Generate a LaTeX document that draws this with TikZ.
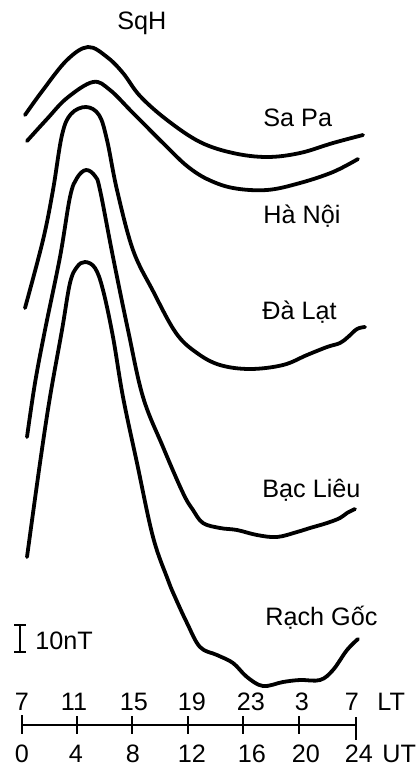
\documentclass[tikz,border=0pt]{standalone}
\usepackage{fontspec}
\setmainfont{Liberation Sans}
\usetikzlibrary{positioning}
\tikzstyle{trace} = [line width=1.9pt, line cap=round, line join=round]
\tikzstyle{timeline} = [line width=1.1pt]
\tikzstyle{tickmark} = [line width=0.9pt]
\tikzstyle{site} = [inner sep=0pt, anchor=base west, font=\fontsize{12.6}{15}\selectfont]
\tikzstyle{hour} = [inner sep=0pt, anchor=base, font=\fontsize{12.6}{15}\selectfont]

\begin{document}
\begin{tikzpicture}[x=0.5pt, y=-0.5pt]
                \useasboundingbox (0,0) rectangle (419,767);

                \node (sqh) [site] at (117,29) {SqH};
                \node (sapa) [site] at (263,126) {Sa Pa};
                \node (hanoi) [site] at (263,223) {Hà Nội};
                \node (dalat) [site] at (262,319) {Đà Lạt};
                \node (baclieu) [site] at (262,497) {Bạc Liêu};
                \node (rachgoc) [site] at (265,625) {Rạch Gốc};

                % SqH curves
                \draw [trace] plot [smooth, tension=0.6] coordinates {(25,115) (43,90) (67,60) (88,47) (107,57) (123,73) (140,96) (167,120) (200,142) (233,153) (267,157) (300,153) (333,143) (363,135)};
                \draw [trace] plot [smooth, tension=0.6] coordinates {(27,141) (47,119) (67,98) (93,82) (110,90) (133,113) (167,147) (187,166) (207,179) (233,188) (267,190) (300,183) (333,172) (358,159)};
                \draw [trace] plot [smooth, tension=0.6] coordinates {(25,308) (43,240) (53,190) (62,135) (71,114) (86,107) (99,115) (107,140) (117,190) (133,250) (153,291) (176,333) (197,353) (220,365) (250,369) (283,365) (307,355) (327,347) (340,343) (348,337) (357,329) (365,327)};
                \draw [trace] plot [smooth, tension=0.6] coordinates {(27,437) (35,383) (45,330) (60,257) (70,197) (77,178) (86,170) (95,176) (100,190) (113,257) (128,330) (143,397) (163,447) (183,493) (193,510) (203,523) (220,528) (237,530) (257,535) (277,537) (297,532) (310,528) (327,523) (340,518) (347,513) (355,509)};
                \draw [trace] plot [smooth, tension=0.6] coordinates {(27,557) (40,463) (50,397) (62,330) (70,283) (77,267) (85,262) (95,268) (103,290) (113,337) (123,397) (137,463) (153,537) (168,580) (175,597) (187,623) (200,647) (217,655) (233,663) (247,677) (263,686) (283,682) (300,680) (320,680) (333,670) (347,650) (358,639)};

                % 10 nT scale
                \coordinate (bartop) at (20,625);
                \coordinate (barbot) at (20,652);
                \draw [tickmark] (bartop) -- (barbot);
                \draw [tickmark] ([xshift=-3pt]bartop) -- ([xshift=3pt]bartop);
                \draw [tickmark] ([xshift=-3pt]barbot) -- ([xshift=3pt]barbot);
                \node (unit) [site] at (35,649) {10nT};

                % time axis
                \coordinate (u0) at (22,725);
                \coordinate (u4) at (77,725);
                \coordinate (u8) at (132,725);
                \coordinate (u12) at (188,725);
                \coordinate (u16) at (243,725);
                \coordinate (u20) at (299,725);
                \coordinate (u24) at (356,725);
                \draw [timeline] (u0) -- (u24);
                \draw [tickmark] (u0) ++(0,-10) -- ++(0,19);
                \draw [tickmark] (u4) ++(0,-9) -- ++(0,18);
                \draw [tickmark] (u8) ++(0,-9) -- ++(0,18);
                \draw [tickmark] (u12) ++(0,-9) -- ++(0,18);
                \draw [tickmark] (u16) ++(0,-9) -- ++(0,18);
                \draw [tickmark] (u20) ++(0,-9) -- ++(0,18);
                \draw [tickmark] (u24) ++(0,-8) -- ++(0,23);

                \node (lt7a) [hour] at (22,710) {7};
                \node (lt11) [hour] at (74,710) {11};
                \node (lt15) [hour] at (134,710) {15};
                \node (lt19) [hour] at (192,710) {19};
                \node (lt23) [hour] at (251,710) {23};
                \node (lt3) [hour] at (302,710) {3};
                \node (lt7b) [hour] at (352,710) {7};
                \node (lt) [site] at (377,710) {LT};

                \node (ut0) [hour] at (22,762) {0};
                \node (ut4) [hour] at (76,762) {4};
                \node (ut8) [hour] at (133,762) {8};
                \node (ut12) [hour] at (192,762) {12};
                \node (ut16) [hour] at (252,762) {16};
                \node (ut20) [hour] at (306,762) {20};
                \node (ut24) [hour] at (359,762) {24};
                \node (ut) [site] at (382,762) {UT};
            \end{tikzpicture}
\end{document}
